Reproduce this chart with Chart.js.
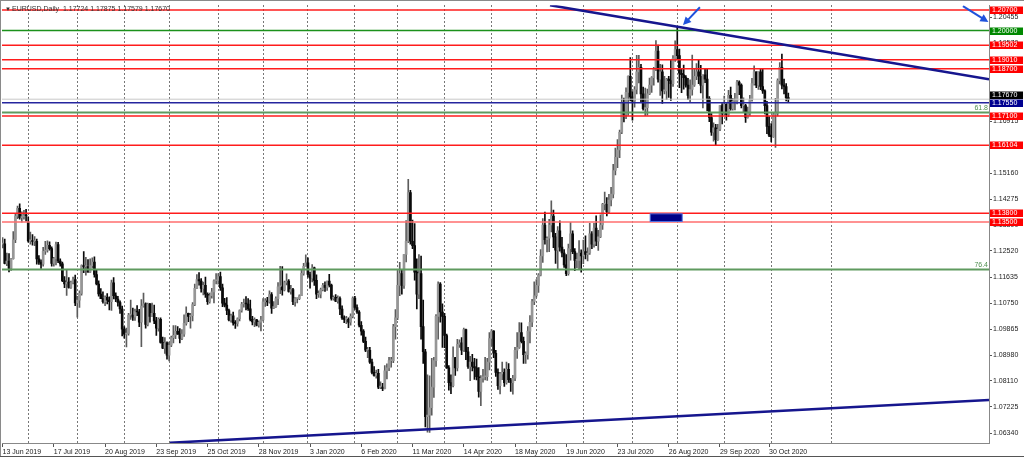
<!DOCTYPE html>
<html>
<head>
<meta charset="utf-8">
<title>EURUSD Daily</title>
<script src="https://cdn.jsdelivr.net/npm/chart.js@4.4.1/dist/chart.umd.min.js"></script>
<style>
  html, body { margin: 0; padding: 0; background: #fff; }
  #wrap { width: 1024px; height: 458px; }
</style>
</head>
<body>
<div id="wrap"><canvas id="chart" width="1024" height="458"></canvas></div>
<script>
// EURUSD, Daily - one bar per trading day, 13 Jun 2019 .. 12 Nov 2020 (bar index 0..368)
const opens = [
  1.1275,1.1276,1.1210,1.1218,1.1193,1.1226,1.1290,1.1370,1.1397,1.1365,1.1368,1.1372,
  1.1350,1.1286,1.1287,1.1284,1.1285,1.1225,1.1214,1.1207,1.1251,1.1255,1.1271,1.1260,1.1210,1.1226,1.1274,1.1218,1.1208,1.1151,1.1140,1.1146,1.1128,1.1145,1.1155,
  1.1076,1.1085,1.1108,1.1202,1.1199,1.1199,1.1180,1.1202,1.1214,1.1172,1.1140,1.1106,1.1090,1.1080,1.1095,1.1085,1.1080,1.1144,1.1100,1.1089,1.1077,1.1055,
  1.0987,1.0970,1.0972,1.1034,1.1034,1.1027,1.1046,1.1045,1.1010,1.1065,1.1073,1.1003,1.1072,1.1030,1.1040,1.1015,1.0990,1.1020,1.0942,1.0922,1.0940,
  1.0898,1.0932,1.0958,1.0966,1.0979,1.0970,1.0955,1.0970,1.1006,1.1040,1.1030,1.1032,1.1070,1.1125,1.1155,1.1150,1.1125,1.1135,1.1105,1.1080,1.1100,1.1113,1.1151,
  1.1152,1.1165,1.1127,1.1075,1.1068,1.1050,1.1018,1.1032,1.1008,1.1006,1.1022,1.1050,1.1072,1.1075,1.1072,1.1056,1.1020,1.1011,1.1018,1.1000,1.1010,
  1.1018,1.1079,1.1081,1.1079,1.1104,1.1058,1.1063,1.1090,1.1130,1.1130,1.1120,1.1145,1.1150,1.1115,1.1121,1.1080,1.1090,1.1090,1.1100,1.1176,1.1200,
  1.1212,1.1172,1.1160,1.1195,1.1152,1.1105,1.1105,1.1121,1.1135,1.1128,1.1150,1.1136,1.1091,1.1095,1.1082,1.1090,1.1055,1.1025,1.1020,1.1020,1.1010,1.1030,
  1.1092,1.1060,1.1045,1.1000,1.0980,1.0945,1.0915,1.0915,1.0875,1.0840,1.0830,1.0837,1.0790,1.0790,1.0785,1.0845,1.0855,1.0880,1.0880,1.0995,
  1.1025,1.1135,1.1175,1.1135,1.1240,1.1285,1.1450,1.1285,1.1270,1.1180,1.1105,1.1175,1.0995,1.0910,1.0690,1.0695,1.0720,1.0790,1.0880,1.1030,1.1140,1.1045,
  1.1030,1.0965,1.0855,1.0805,1.0795,1.0890,1.0855,1.0935,1.0940,1.0915,1.0985,1.0910,1.0860,1.0875,1.0860,1.0855,1.0825,1.0775,1.0820,1.0825,1.0825,1.0875,
  1.0955,1.0980,1.0905,1.0840,1.0795,1.0835,1.0840,1.0805,1.0850,1.0815,1.0805,1.0820,1.0915,1.0925,1.0975,1.0945,1.0900,1.0900,1.0980,1.1010,1.1080,
  1.1100,1.1135,1.1170,1.1235,1.1340,1.1290,1.1295,1.1340,1.1370,1.1300,1.1255,1.1320,1.1265,1.1245,1.1205,1.1175,1.1260,1.1310,1.1250,1.1220,1.1220,1.1245,
  1.1235,1.1250,1.1240,1.1245,1.1310,1.1275,1.1330,1.1285,1.1300,1.1340,1.1410,1.1410,1.1385,1.1425,1.1445,1.1525,1.1570,1.1595,1.1655,1.1755,1.1715,1.1790,1.1845,
  1.1775,1.1760,1.1800,1.1860,1.1875,1.1785,1.1735,1.1738,1.1785,1.1815,1.1840,1.1870,1.1930,1.1835,1.1860,1.1795,1.1795,1.1835,1.1830,1.1820,1.1905,
  1.1935,1.1915,1.1855,1.1850,1.1840,1.1815,1.1780,1.1800,1.1815,1.1845,1.1860,1.1845,1.1815,1.1850,1.1835,1.1770,1.1705,1.1655,1.1670,1.1630,1.1665,1.1745,
  1.1720,1.1750,1.1715,1.1780,1.1735,1.1760,1.1760,1.1825,1.1815,1.1745,1.1745,1.1705,1.1720,1.1765,1.1820,1.1860,1.1815,1.1860,1.1810,1.1795,1.1745,1.1675,
  1.1645,1.1640,1.1715,1.1720,1.1830,1.1875,1.1815,1.1810,1.17724
];
const highs = [
  1.1297,1.1292,1.1245,1.1243,1.1227,1.1318,1.1380,1.1404,1.1412,1.1385,1.1390,1.1393,
  1.1368,1.1316,1.1308,1.1301,1.1292,1.1236,1.1222,1.1264,1.1285,1.1286,1.1283,1.1266,1.1230,1.1282,1.1281,1.1225,1.1214,1.1165,1.1188,1.1162,1.1150,1.1163,1.1170,
  1.1098,1.1117,1.1205,1.1250,1.1230,1.1223,1.1225,1.1229,1.1232,1.1188,1.1151,1.1124,1.1113,1.1100,1.1107,1.1096,1.1153,1.1162,1.1110,1.1098,1.1083,1.1065,
  1.0995,1.0990,1.1040,1.1085,1.1058,1.1055,1.1067,1.1054,1.1087,1.1109,1.1076,1.1075,1.1074,1.1075,1.1068,1.1027,1.1025,1.1025,1.0960,1.0958,1.0944,
  1.0943,1.0963,1.0999,1.0999,1.0995,1.0989,1.0985,1.1035,1.1062,1.1041,1.1040,1.1077,1.1140,1.1172,1.1179,1.1158,1.1146,1.1163,1.1110,1.1109,1.1125,1.1154,1.1175,
  1.1175,1.1180,1.1140,1.1091,1.1094,1.1055,1.1038,1.1045,1.1016,1.1025,1.1052,1.1078,1.1089,1.1097,1.1090,1.1085,1.1030,1.1025,1.1020,1.1015,1.1030,
  1.1090,1.1090,1.1095,1.1117,1.1111,1.1080,1.1096,1.1145,1.1200,1.1199,1.1150,1.1174,1.1155,1.1135,1.1125,1.1094,1.1092,1.1103,1.1188,1.1210,1.1239,
  1.1229,1.1180,1.1206,1.1197,1.1171,1.1117,1.1126,1.1142,1.1147,1.1150,1.1173,1.1140,1.1100,1.1104,1.1100,1.1096,1.1066,1.1032,1.1030,1.1025,1.1039,1.1096,
  1.1098,1.1069,1.1050,1.1012,1.0985,1.0960,1.0925,1.0925,1.0885,1.0860,1.0848,1.0850,1.0808,1.0803,1.0863,1.0869,1.0891,1.0891,1.1003,1.1053,
  1.1185,1.1213,1.1189,1.1240,1.1355,1.1495,1.1458,1.1357,1.1345,1.1225,1.1240,1.1235,1.1085,1.0918,1.0832,1.0828,1.0888,1.0891,1.1036,1.1147,1.1145,1.1073,
  1.1040,1.0970,1.0863,1.0832,1.0927,1.0891,1.0952,1.0950,1.0958,1.0990,1.0987,1.0925,1.0894,1.0901,1.0888,1.0885,1.0856,1.0829,1.0850,1.0891,1.0888,1.0975,
  1.0985,1.0982,1.0915,1.0852,1.0840,1.0875,1.0852,1.0875,1.0870,1.0820,1.0830,1.0925,1.0975,1.1009,1.1008,1.0960,1.0910,1.0995,1.1033,1.1088,1.1147,
  1.1155,1.1175,1.1257,1.1362,1.1384,1.1300,1.1359,1.1422,1.1391,1.1312,1.1335,1.1354,1.1298,1.1257,1.1240,1.1275,1.1349,1.1320,1.1260,1.1245,1.1287,1.1256,
  1.1289,1.1303,1.1263,1.1346,1.1318,1.1346,1.1371,1.1322,1.1375,1.1414,1.1452,1.1433,1.1444,1.1468,1.1546,1.1601,1.1630,1.1662,1.1781,1.1771,1.1806,1.1846,1.1908,
  1.1793,1.1810,1.1916,1.1916,1.1885,1.1808,1.1805,1.1801,1.1839,1.1844,1.1875,1.1966,1.1951,1.1885,1.1884,1.1845,1.1838,1.1845,1.1900,1.1915,1.1965,
  1.2011,1.1937,1.1868,1.1883,1.1847,1.1838,1.1833,1.1917,1.1872,1.1888,1.1901,1.1882,1.1850,1.1871,1.1872,1.1776,1.1718,1.1687,1.1682,1.1682,1.1745,1.1752,
  1.1778,1.1752,1.1797,1.1808,1.1770,1.1787,1.1831,1.1829,1.1819,1.1772,1.1750,1.1740,1.1780,1.1838,1.1880,1.1860,1.1860,1.1869,1.1870,1.1799,1.1760,1.1708,
  1.1684,1.1721,1.1770,1.1836,1.1891,1.1920,1.1835,1.1820,1.17875
];
const lows = [
  1.1262,1.1208,1.1202,1.1181,1.1186,1.1224,1.1280,1.1362,1.1360,1.1350,1.1360,1.1353,
  1.1282,1.1275,1.1272,1.1270,1.1207,1.1206,1.1193,1.1200,1.1240,1.1248,1.1255,1.1200,1.1200,1.1205,1.1212,1.1200,1.1148,1.1127,1.1101,1.1126,1.1125,1.1140,1.1066,
  1.1027,1.1060,1.1102,1.1178,1.1170,1.1180,1.1179,1.1194,1.1163,1.1137,1.1099,1.1090,1.1075,1.1066,1.1072,1.1052,1.1050,1.1089,1.1080,1.1065,1.1040,1.0964,
  1.0956,1.0926,1.0966,1.1020,1.1016,1.1016,1.1032,1.0995,1.0927,1.1061,1.0990,1.0998,1.1010,1.1030,1.1005,1.0965,1.0980,1.0939,1.0920,1.0904,1.0885,
  1.0879,1.0927,1.0940,1.0954,1.0969,1.0940,1.0951,1.0962,1.1000,1.1012,1.0990,1.1015,1.1066,1.1124,1.1136,1.1112,1.1103,1.1094,1.1071,1.1075,1.1092,1.1076,1.1140,
  1.1139,1.1118,1.1063,1.1062,1.1036,1.1015,1.1010,1.1000,1.0989,1.0997,1.1015,1.1044,1.1061,1.1052,1.1050,1.1015,1.1001,1.0995,1.0998,1.0993,1.0981,
  1.1015,1.1064,1.1066,1.1075,1.1040,1.1056,1.1060,1.1070,1.1107,1.1102,1.1116,1.1137,1.1112,1.1105,1.1070,1.1065,1.1076,1.1087,1.1100,1.1170,1.1200,
  1.1163,1.1126,1.1147,1.1135,1.1090,1.1094,1.1093,1.1116,1.1115,1.1118,1.1130,1.1085,1.1085,1.1080,1.1075,1.1036,1.1020,1.1009,1.1005,1.0992,1.1000,1.1025,
  1.1054,1.1040,1.0994,1.0966,1.0941,1.0910,1.0890,1.0870,1.0835,1.0827,1.0820,1.0785,1.0785,1.0778,1.0784,1.0818,1.0846,1.0858,1.0873,1.0953,
  1.1019,1.1100,1.1105,1.1125,1.1215,1.1280,1.1275,1.1260,1.1153,1.1055,1.1090,1.0953,1.0870,1.0655,1.0637,1.0636,1.0695,1.0755,1.0860,1.0953,1.1010,1.0925,
  1.0924,1.0853,1.0780,1.0768,1.0791,1.0830,1.0845,1.0925,1.0900,1.0911,1.0883,1.0853,1.0812,1.0845,1.0816,1.0814,1.0756,1.0727,1.0807,1.0814,1.0813,1.0848,
  1.0930,1.0890,1.0826,1.0782,1.0767,1.0815,1.0792,1.0800,1.0806,1.0775,1.0766,1.0812,1.0887,1.0921,1.0940,1.0870,1.0870,1.0885,1.0940,1.0995,1.1070,
  1.1095,1.1111,1.1167,1.1213,1.1275,1.1249,1.1250,1.1317,1.1263,1.1210,1.1190,1.1251,1.1232,1.1196,1.1168,1.1170,1.1221,1.1243,1.1185,1.1195,1.1190,1.1180,
  1.1209,1.1225,1.1218,1.1240,1.1260,1.1265,1.1270,1.1254,1.1297,1.1325,1.1391,1.1371,1.1380,1.1405,1.1432,1.1510,1.1535,1.1569,1.1650,1.1690,1.1701,1.1712,1.1761,
  1.1696,1.1740,1.1785,1.1822,1.1755,1.1730,1.1711,1.1713,1.1782,1.1790,1.1815,1.1864,1.1825,1.1780,1.1753,1.1785,1.1765,1.1773,1.1763,1.1810,1.1895,
  1.1900,1.1806,1.1789,1.1801,1.1808,1.1765,1.1756,1.1781,1.1810,1.1833,1.1820,1.1788,1.1737,1.1823,1.1727,1.1691,1.1644,1.1625,1.1612,1.1627,1.1660,1.1683,
  1.1713,1.1696,1.1708,1.1730,1.1730,1.1731,1.1751,1.1782,1.1737,1.1722,1.1688,1.1703,1.1712,1.1760,1.1815,1.1806,1.1800,1.1799,1.1787,1.1717,1.1650,1.1640,
  1.1622,1.1637,1.1603,1.1710,1.1819,1.1802,1.1785,1.1761,1.17579
];
const closes = [
  1.1276,1.1210,1.1218,1.1193,1.1226,1.1290,1.1370,1.1397,1.1365,1.1368,1.1372,1.1371,
  1.1286,1.1287,1.1284,1.1285,1.1225,1.1214,1.1207,1.1251,1.1255,1.1271,1.1260,1.1210,1.1226,1.1274,1.1218,1.1208,1.1151,1.1140,1.1146,1.1128,1.1145,1.1155,1.1076,
  1.1085,1.1108,1.1202,1.1199,1.1199,1.1180,1.1202,1.1214,1.1172,1.1140,1.1106,1.1090,1.1080,1.1095,1.1085,1.1080,1.1144,1.1100,1.1089,1.1077,1.1055,1.0987,
  1.0970,1.0972,1.1034,1.1034,1.1027,1.1046,1.1045,1.1010,1.1065,1.1073,1.1003,1.1072,1.1030,1.1040,1.1015,1.0990,1.1020,1.0942,1.0922,1.0940,1.0898,
  1.0932,1.0958,1.0966,1.0979,1.0970,1.0955,1.0970,1.1006,1.1040,1.1030,1.1032,1.1070,1.1125,1.1155,1.1150,1.1125,1.1135,1.1105,1.1080,1.1100,1.1113,1.1151,1.1152,
  1.1165,1.1127,1.1075,1.1068,1.1050,1.1018,1.1032,1.1008,1.1006,1.1022,1.1050,1.1072,1.1075,1.1072,1.1056,1.1020,1.1011,1.1018,1.1000,1.1010,1.1018,
  1.1079,1.1081,1.1079,1.1104,1.1058,1.1063,1.1090,1.1130,1.1130,1.1120,1.1145,1.1150,1.1115,1.1121,1.1080,1.1090,1.1090,1.1100,1.1176,1.1200,1.1212,
  1.1172,1.1160,1.1195,1.1152,1.1105,1.1105,1.1121,1.1135,1.1128,1.1150,1.1136,1.1091,1.1095,1.1082,1.1090,1.1055,1.1025,1.1020,1.1020,1.1010,1.1030,1.1092,
  1.1060,1.1045,1.1000,1.0980,1.0945,1.0915,1.0915,1.0875,1.0840,1.0830,1.0837,1.0790,1.0790,1.0785,1.0845,1.0855,1.0880,1.0880,1.0995,1.1025,
  1.1135,1.1175,1.1135,1.1240,1.1285,1.1450,1.1285,1.1270,1.1180,1.1105,1.1175,1.0995,1.0910,1.0690,1.0695,1.0720,1.0790,1.0880,1.1030,1.1140,1.1045,1.1030,
  1.0965,1.0855,1.0805,1.0795,1.0890,1.0855,1.0935,1.0940,1.0915,1.0985,1.0910,1.0860,1.0875,1.0860,1.0855,1.0825,1.0775,1.0820,1.0825,1.0825,1.0875,1.0955,
  1.0980,1.0905,1.0840,1.0795,1.0835,1.0840,1.0805,1.0850,1.0815,1.0805,1.0820,1.0915,1.0925,1.0975,1.0945,1.0900,1.0900,1.0980,1.1010,1.1080,1.1100,
  1.1135,1.1170,1.1235,1.1340,1.1290,1.1295,1.1340,1.1370,1.1300,1.1255,1.1320,1.1265,1.1245,1.1205,1.1175,1.1260,1.1310,1.1250,1.1220,1.1220,1.1245,1.1235,
  1.1250,1.1240,1.1245,1.1310,1.1275,1.1330,1.1285,1.1300,1.1340,1.1410,1.1410,1.1385,1.1425,1.1445,1.1525,1.1570,1.1595,1.1655,1.1755,1.1715,1.1790,1.1845,1.1775,
  1.1760,1.1800,1.1860,1.1875,1.1785,1.1735,1.1738,1.1785,1.1815,1.1840,1.1870,1.1930,1.1835,1.1860,1.1795,1.1795,1.1835,1.1830,1.1820,1.1905,1.1935,
  1.1915,1.1855,1.1850,1.1840,1.1815,1.1780,1.1800,1.1815,1.1845,1.1860,1.1845,1.1815,1.1850,1.1835,1.1770,1.1705,1.1655,1.1670,1.1630,1.1665,1.1745,1.1720,
  1.1750,1.1715,1.1780,1.1735,1.1760,1.1760,1.1825,1.1815,1.1745,1.1745,1.1705,1.1720,1.1765,1.1820,1.1860,1.1815,1.1860,1.1810,1.1795,1.1745,1.1675,1.1645,
  1.1640,1.1715,1.1720,1.1830,1.1875,1.1815,1.1810,1.1772,1.17670
];

// axis labels
const dateLabels = ['13 Jun 2019','17 Jul 2019','20 Aug 2019','23 Sep 2019','25 Oct 2019','28 Nov 2019','3 Jan 2020','6 Feb 2020',
  '11 Mar 2020','14 Apr 2020','18 May 2020','19 Jun 2020','23 Jul 2020','26 Aug 2020','29 Sep 2020','30 Oct 2020'];
const dateLabelBars = [0,24,48,72,96,120,144,168,192,216,240,264,288,312,336,359];
const monthStartBars = [12,35,57,78,101,122,143,165,185,207,229,250,272,295,316,338,360,388];
const priceTicks = [1.20455,1.19570,1.18685,1.17800,1.16915,1.16030,1.15160,1.14275,1.13390,1.12520,
  1.11635,1.10750,1.09865,1.08980,1.08110,1.07225,1.06340];

// objects drawn on the chart
const levelPrices = [1.20700,1.20000,1.19502,1.19010,1.18700,1.17550,1.17100,1.16104,1.13800,1.13500];
const fiboPrices = [1.1722,1.1189];
const fiboNames = ['61.8','76.4'];
const bidPrice = 1.17670;
const upperTrendBars = [256.4,462];
const upperTrendPrices = [1.2086,1.1835];
const lowerTrendBars = [78.4,462];
const lowerTrendPrices = [1.0601,1.07465];
const arrowTailBars = [326.6,449.8];
const arrowTailPrices = [1.2079,1.2083];
const arrowTipBars = [318.7,461.7];
const arrowTipPrices = [1.2019,1.2029];
const boxBars = [303.3,318.3];
const boxPrices = [1.1378,1.1352];
const headerText = 'EURUSD,Daily  1.17724 1.17875 1.17579 1.17670';

// styles
const RED = '#ff1c1c', GREEN = '#1b911b', NAVY = '#25259e';
const levelColours = [RED,GREEN,RED,RED,RED,NAVY,RED,RED,RED,'#ff6e6e'];
const tagColours = ['#ff0000','#008800','#ff0000','#ff0000','#ff0000','#000090','#ff0000','#ff0000','#ff0000','#ff0000'];
const FONT = '"Liberation Sans", "DejaVu Sans", sans-serif';
const X_MIN = -0.28, X_MAX = 462;

const bull = opens.map((o, i) => closes[i] >= o);
const bodyColours = bull.map(b => b ? '#969696' : '#0a0a0a');
const wickColours = bull.map(b => b ? '#5c5c5c' : '#0a0a0a');

const datasets = [];
levelPrices.forEach((p, i) => {
    datasets.push({
        type: 'line', data: [{x: X_MIN, y: p}, {x: X_MAX, y: p}],
        borderColor: levelColours[i], borderWidth: 1.5, pointRadius: 0, order: 2
    });
});
fiboPrices.forEach(p => {
    datasets.push({
        type: 'line', data: [{x: X_MIN, y: p}, {x: X_MAX, y: p}],
        borderColor: '#5f9a5f', borderWidth: 2, pointRadius: 0, order: 3
    });
});
datasets.push({
    type: 'line', data: [{x: X_MIN, y: bidPrice}, {x: X_MAX, y: bidPrice}],
    borderColor: '#c8c8c8', borderWidth: 1, pointRadius: 0, order: 4
});
datasets.push({
    type: 'line', data: upperTrendBars.map((b, i) => ({x: b, y: upperTrendPrices[i]})),
    borderColor: '#16168e', borderWidth: 2.5, pointRadius: 0, order: 1
});
datasets.push({
    type: 'line', data: lowerTrendBars.map((b, i) => ({x: b, y: lowerTrendPrices[i]})),
    borderColor: '#16168e', borderWidth: 2.5, pointRadius: 0, order: 1
});
datasets.push({
    type: 'bar', data: lows.map((l, i) => ({x: i, y: [l, highs[i]]})),
    backgroundColor: wickColours, barThickness: 1, grouped: false, order: 11
});
datasets.push({
    type: 'bar', data: opens.map((o, i) => ({x: i, y: [o, closes[i]]})),
    backgroundColor: bodyColours, barThickness: 2, minBarLength: 1, grouped: false, order: 10
});

function drawArrow(ctx, x1, y1, x2, y2) {
    const ang = Math.atan2(y2 - y1, x2 - x1);
    ctx.beginPath();
    ctx.moveTo(x1, y1);
    ctx.lineTo(x2 - 5 * Math.cos(ang), y2 - 5 * Math.sin(ang));
    ctx.stroke();
    ctx.beginPath();
    ctx.moveTo(x2, y2);
    ctx.lineTo(x2 - 8 * Math.cos(ang) + 4 * Math.sin(ang), y2 - 8 * Math.sin(ang) - 4 * Math.cos(ang));
    ctx.lineTo(x2 - 8 * Math.cos(ang) - 4 * Math.sin(ang), y2 - 8 * Math.sin(ang) + 4 * Math.cos(ang));
    ctx.closePath();
    ctx.fill();
}

function priceTag(ctx, y, text, bg) {
    ctx.fillStyle = bg;
    ctx.fillRect(990, Math.round(y) - 3.5, 33, 7.5);
    ctx.fillStyle = '#ffffff';
    ctx.fillText(text, 992, Math.round(y) + 0.5);
}

const overlay = {
    id: 'overlay',
    afterDraw(chart) {
        const ctx = chart.ctx, xs = chart.scales.x, ys = chart.scales.y, a = chart.chartArea;
        ctx.save();
        ctx.beginPath();
        ctx.rect(a.left, a.top, a.right - a.left, a.bottom - a.top);
        ctx.clip();

        // rectangle
        const rx1 = xs.getPixelForValue(boxBars[0]), rx2 = xs.getPixelForValue(boxBars[1]);
        const ry1 = ys.getPixelForValue(boxPrices[0]), ry2 = ys.getPixelForValue(boxPrices[1]);
        ctx.fillStyle = '#000088';
        ctx.fillRect(rx1, ry1, rx2 - rx1, ry2 - ry1);
        ctx.strokeStyle = '#5070e0';
        ctx.lineWidth = 1;
        ctx.strokeRect(rx1, ry1, rx2 - rx1, ry2 - ry1);

        // arrows
        ctx.strokeStyle = '#1f52dc';
        ctx.fillStyle = '#1f52dc';
        ctx.lineWidth = 2;
        arrowTailBars.forEach((b, i) => {
            drawArrow(ctx, xs.getPixelForValue(b), ys.getPixelForValue(arrowTailPrices[i]),
                xs.getPixelForValue(arrowTipBars[i]), ys.getPixelForValue(arrowTipPrices[i]));
        });

        // fibo level names
        ctx.font = '7px ' + FONT;
        ctx.fillStyle = '#4f8f4f';
        ctx.textAlign = 'right';
        ctx.textBaseline = 'bottom';
        fiboPrices.forEach((p, i) => {
            ctx.fillText(fiboNames[i], a.right - 1, ys.getPixelForValue(p) - 1);
        });
        ctx.restore();

        // price tags on the right scale
        ctx.save();
        ctx.font = '7px ' + FONT;
        ctx.textAlign = 'left';
        ctx.textBaseline = 'middle';
        priceTag(ctx, ys.getPixelForValue(bidPrice) - 4, bidPrice.toFixed(5), '#000000');
        levelPrices.forEach((p, i) => {
            priceTag(ctx, ys.getPixelForValue(p), p.toFixed(5), tagColours[i]);
        });

        // header
        ctx.fillStyle = '#333333';
        ctx.font = '6px ' + FONT;
        ctx.fillText('\u25BC', 5, 9);
        ctx.font = '7px ' + FONT;
        ctx.fillText(headerText, 12, 9);

        // frame
        ctx.strokeStyle = '#8a8a8a';
        ctx.lineWidth = 1;
        ctx.beginPath();
        ctx.moveTo(0.5, 0);
        ctx.lineTo(0.5, 457);
        ctx.moveTo(0, 0.5);
        ctx.lineTo(1024, 0.5);
        ctx.stroke();
        ctx.strokeStyle = '#555555';
        ctx.beginPath();
        ctx.moveTo(0, 456.5);
        ctx.lineTo(1024, 456.5);
        ctx.stroke();
        ctx.restore();
    }
};

new Chart(document.getElementById('chart'), {
    type: 'bar',
    data: { datasets: datasets },
    options: {
        responsive: false,
        devicePixelRatio: 1,
        animation: false,
        events: [],
        layout: { padding: { left: 2, top: 3, right: 0, bottom: 0 } },
        plugins: { legend: { display: false }, tooltip: { enabled: false } },
        scales: {
            x: {
                type: 'linear', position: 'bottom', min: X_MIN, max: X_MAX, offset: false,
                afterBuildTicks: s => { s.ticks = dateLabelBars.map(v => ({value: v})); },
                afterFit: s => { s.height = 15; },
                ticks: {
                    autoSkip: false, maxRotation: 0, align: 'start', padding: 1,
                    color: '#222', font: { family: FONT, size: 7 },
                    callback: v => dateLabels[dateLabelBars.indexOf(v)]
                },
                grid: { drawOnChartArea: false, offset: false, tickLength: 4, color: '#555' },
                border: { display: true, color: '#888' }
            },
            xg: {
                type: 'linear', position: 'top', min: X_MIN, max: X_MAX, offset: false,
                afterBuildTicks: s => { s.ticks = monthStartBars.map(v => ({value: v})); },
                afterFit: s => { s.height = 0; },
                ticks: { display: false },
                grid: { drawTicks: false, offset: false, color: '#777', lineWidth: 1 },
                border: { display: false, dash: [2, 2] }
            },
            y: {
                type: 'linear', position: 'right', min: 1.06003, max: 1.20860, bounds: 'data',
                afterBuildTicks: s => { s.ticks = priceTicks.map(v => ({value: v})); },
                afterFit: s => { s.width = 35; },
                ticks: {
                    autoSkip: false, padding: 1, color: '#222', font: { family: FONT, size: 7 },
                    callback: v => v.toFixed(5)
                },
                grid: { drawOnChartArea: false, tickLength: 3, color: '#555' },
                border: { display: true, color: '#888' }
            }
        }
    },
    plugins: [overlay]
});
</script>
</body>
</html>
